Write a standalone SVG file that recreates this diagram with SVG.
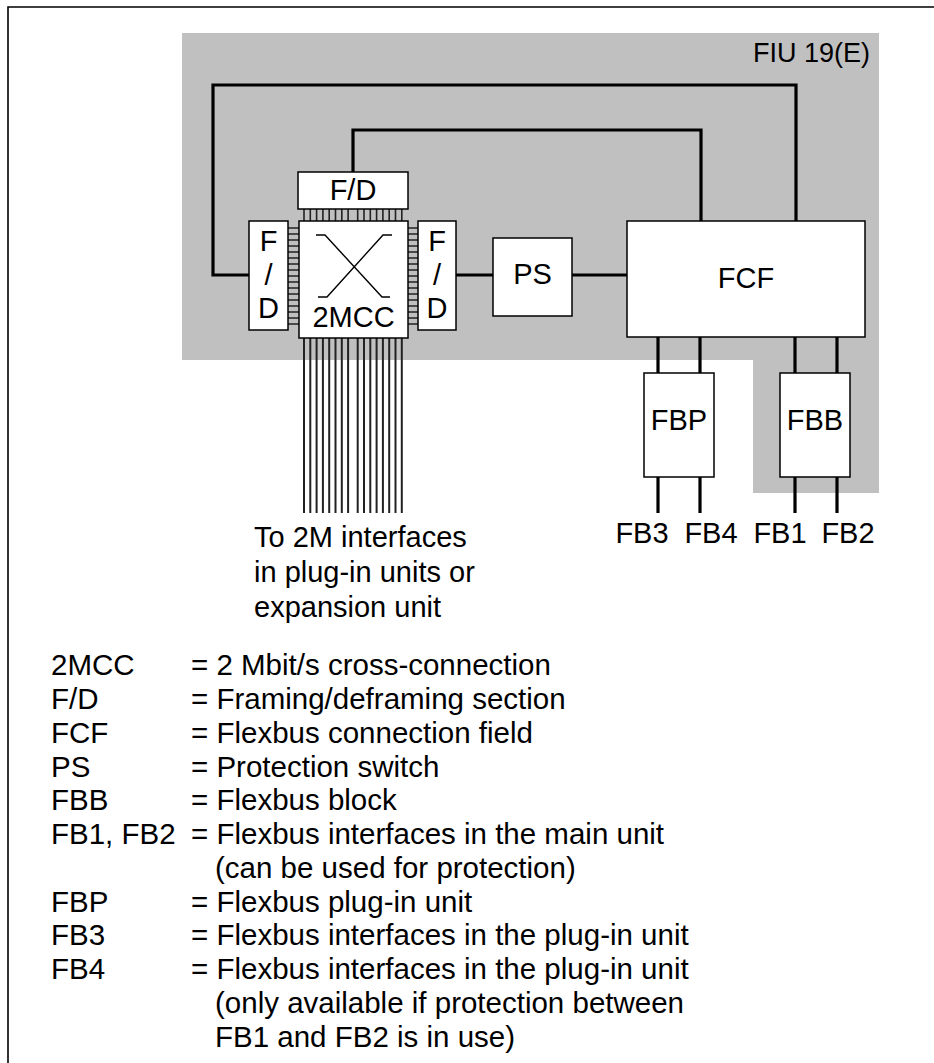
<svg xmlns="http://www.w3.org/2000/svg" width="934" height="1063" viewBox="0 0 934 1063">
<style>
text{font-family:"Liberation Sans",Arial,Helvetica,sans-serif;font-size:29px;fill:#000}
.c{text-anchor:middle}
.lg{font-size:29.5px}
.box{fill:#fff;stroke:#000;stroke-width:1.5}
.wire{fill:none;stroke:#000;stroke-width:3.2}
.pin{stroke:#222;stroke-width:1.6}
.pinv{stroke:#222;stroke-width:2}
</style>
<rect width="934" height="1063" fill="#fff"/>
<path d="M8,1063 V7 H934" fill="none" stroke="#000" stroke-width="1.6"/>
<g id="fiu">
<path d="M182,33 H879 V493 H753 V360 H182 Z" fill="#c0c0c0"/>
<text x="870" y="62" text-anchor="end" style="font-size:27px">FIU 19(E)</text>
</g>
<g id="connectors">
<path class="wire" d="M251,275 H213 V85 H796 V221"/>
<path class="wire" d="M353,172 V130 H701 V221"/>
<path class="wire" d="M456,275 H493"/>
<path class="wire" d="M572,275 H627"/>
<path class="wire" d="M658,337 V373 M700,337 V373 M795,337 V373 M837,337 V373"/>
<path class="wire" d="M658,477 V513 M700,477 V513 M795,477 V513 M837,477 V513"/>
<g id="bus-lines" class="pinv">
<path d="M304,338 V513 M310.3,338 V513 M316.6,338 V513 M322.9,338 V513 M329.2,338 V513 M335.5,338 V513 M341.8,338 V513 M348.1,338 V513 M357.7,338 V513 M364,338 V513 M370.3,338 V513 M376.6,338 V513 M382.9,338 V513 M389.2,338 V513 M395.5,338 V513 M401.8,338 V513"/>
</g>
</g>
<g id="pins" class="pin">
<path d="M304,209 V221 M310.3,209 V221 M316.6,209 V221 M322.9,209 V221 M329.2,209 V221 M335.5,209 V221 M341.8,209 V221 M348.1,209 V221 M357.7,209 V221 M364,209 V221 M370.3,209 V221 M376.6,209 V221 M382.9,209 V221 M389.2,209 V221 M395.5,209 V221 M401.8,209 V221"/>
<path d="M288,228 H299 M288,234 H299 M288,240 H299 M288,246 H299 M288,252 H299 M288,258 H299 M288,264 H299 M288,270 H299 M288,276 H299 M288,282 H299 M288,288 H299 M288,294 H299 M288,300 H299 M288,306 H299 M288,312 H299 M288,318 H299 M288,324 H299"/>
<path d="M408,228 H418 M408,234 H418 M408,240 H418 M408,246 H418 M408,252 H418 M408,258 H418 M408,264 H418 M408,270 H418 M408,276 H418 M408,282 H418 M408,288 H418 M408,294 H418 M408,300 H418 M408,306 H418 M408,312 H418 M408,318 H418 M408,324 H418"/>
</g>
<g id="fd-top">
<rect class="box" x="298" y="172" width="110" height="37"/>
<text class="c" x="353" y="200">F/D</text>
</g>
<g id="mcc">
<rect class="box" x="299" y="221" width="109" height="117"/>
<path d="M316,235 H325 L382,297 H390 M392,235 H383 L327,297 H318" fill="none" stroke="#000" stroke-width="1.4"/>
<text class="c" x="353.5" y="327">2MCC</text>
</g>
<g id="fd-left">
<rect class="box" x="249" y="221" width="39" height="109"/>
<text class="c" x="268.5" y="251">F</text>
<text class="c" x="268.5" y="285">/</text>
<text class="c" x="268.5" y="318">D</text>
</g>
<g id="fd-right">
<rect class="box" x="418" y="221" width="38" height="109"/>
<text class="c" x="437" y="251">F</text>
<text class="c" x="437" y="285">/</text>
<text class="c" x="437" y="318">D</text>
</g>
<g id="ps">
<rect class="box" x="493" y="238" width="79" height="78"/>
<text class="c" x="532.5" y="284">PS</text>
</g>
<g id="fcf">
<rect class="box" x="627" y="221" width="238" height="116"/>
<text class="c" x="746" y="288">FCF</text>
</g>
<g id="fbp">
<rect class="box" x="644" y="373" width="70" height="104"/>
<text class="c" x="679" y="430">FBP</text>
</g>
<g id="fbb">
<rect class="box" x="780" y="373" width="70" height="104"/>
<text class="c" x="815" y="430">FBB</text>
</g>
<g id="fb-labels">
<text class="c" x="642" y="543">FB3</text>
<text class="c" x="711" y="543">FB4</text>
<text class="c" x="780" y="543">FB1</text>
<text class="c" x="848" y="543">FB2</text>
</g>
<g id="note">
<text x="254" y="547">To 2M interfaces</text>
<text x="254" y="582">in plug-in units or</text>
<text x="254" y="617">expansion unit</text>
</g>
<g id="legend" class="lg">
<text class="lg" x="51" y="675">2MCC</text><text class="lg" x="191" y="675">= 2 Mbit/s cross-connection</text>
<text class="lg" x="51" y="709">F/D</text><text class="lg" x="191" y="709">= Framing/deframing section</text>
<text class="lg" x="51" y="743">FCF</text><text class="lg" x="191" y="743">= Flexbus connection field</text>
<text class="lg" x="51" y="777">PS</text><text class="lg" x="191" y="777">= Protection switch</text>
<text class="lg" x="51" y="810">FBB</text><text class="lg" x="191" y="810">= Flexbus block</text>
<text class="lg" x="51" y="844">FB1, FB2</text><text class="lg" x="191" y="844">= Flexbus interfaces in the main unit</text>
<text class="lg" x="215" y="878">(can be used for protection)</text>
<text class="lg" x="51" y="912">FBP</text><text class="lg" x="191" y="912">= Flexbus plug-in unit</text>
<text class="lg" x="51" y="945">FB3</text><text class="lg" x="191" y="945">= Flexbus interfaces in the plug-in unit</text>
<text class="lg" x="51" y="979">FB4</text><text class="lg" x="191" y="979">= Flexbus interfaces in the plug-in unit</text>
<text class="lg" x="215" y="1013">(only available if protection between</text>
<text class="lg" x="215" y="1047">FB1 and FB2 is in use)</text>
</g>
</svg>
